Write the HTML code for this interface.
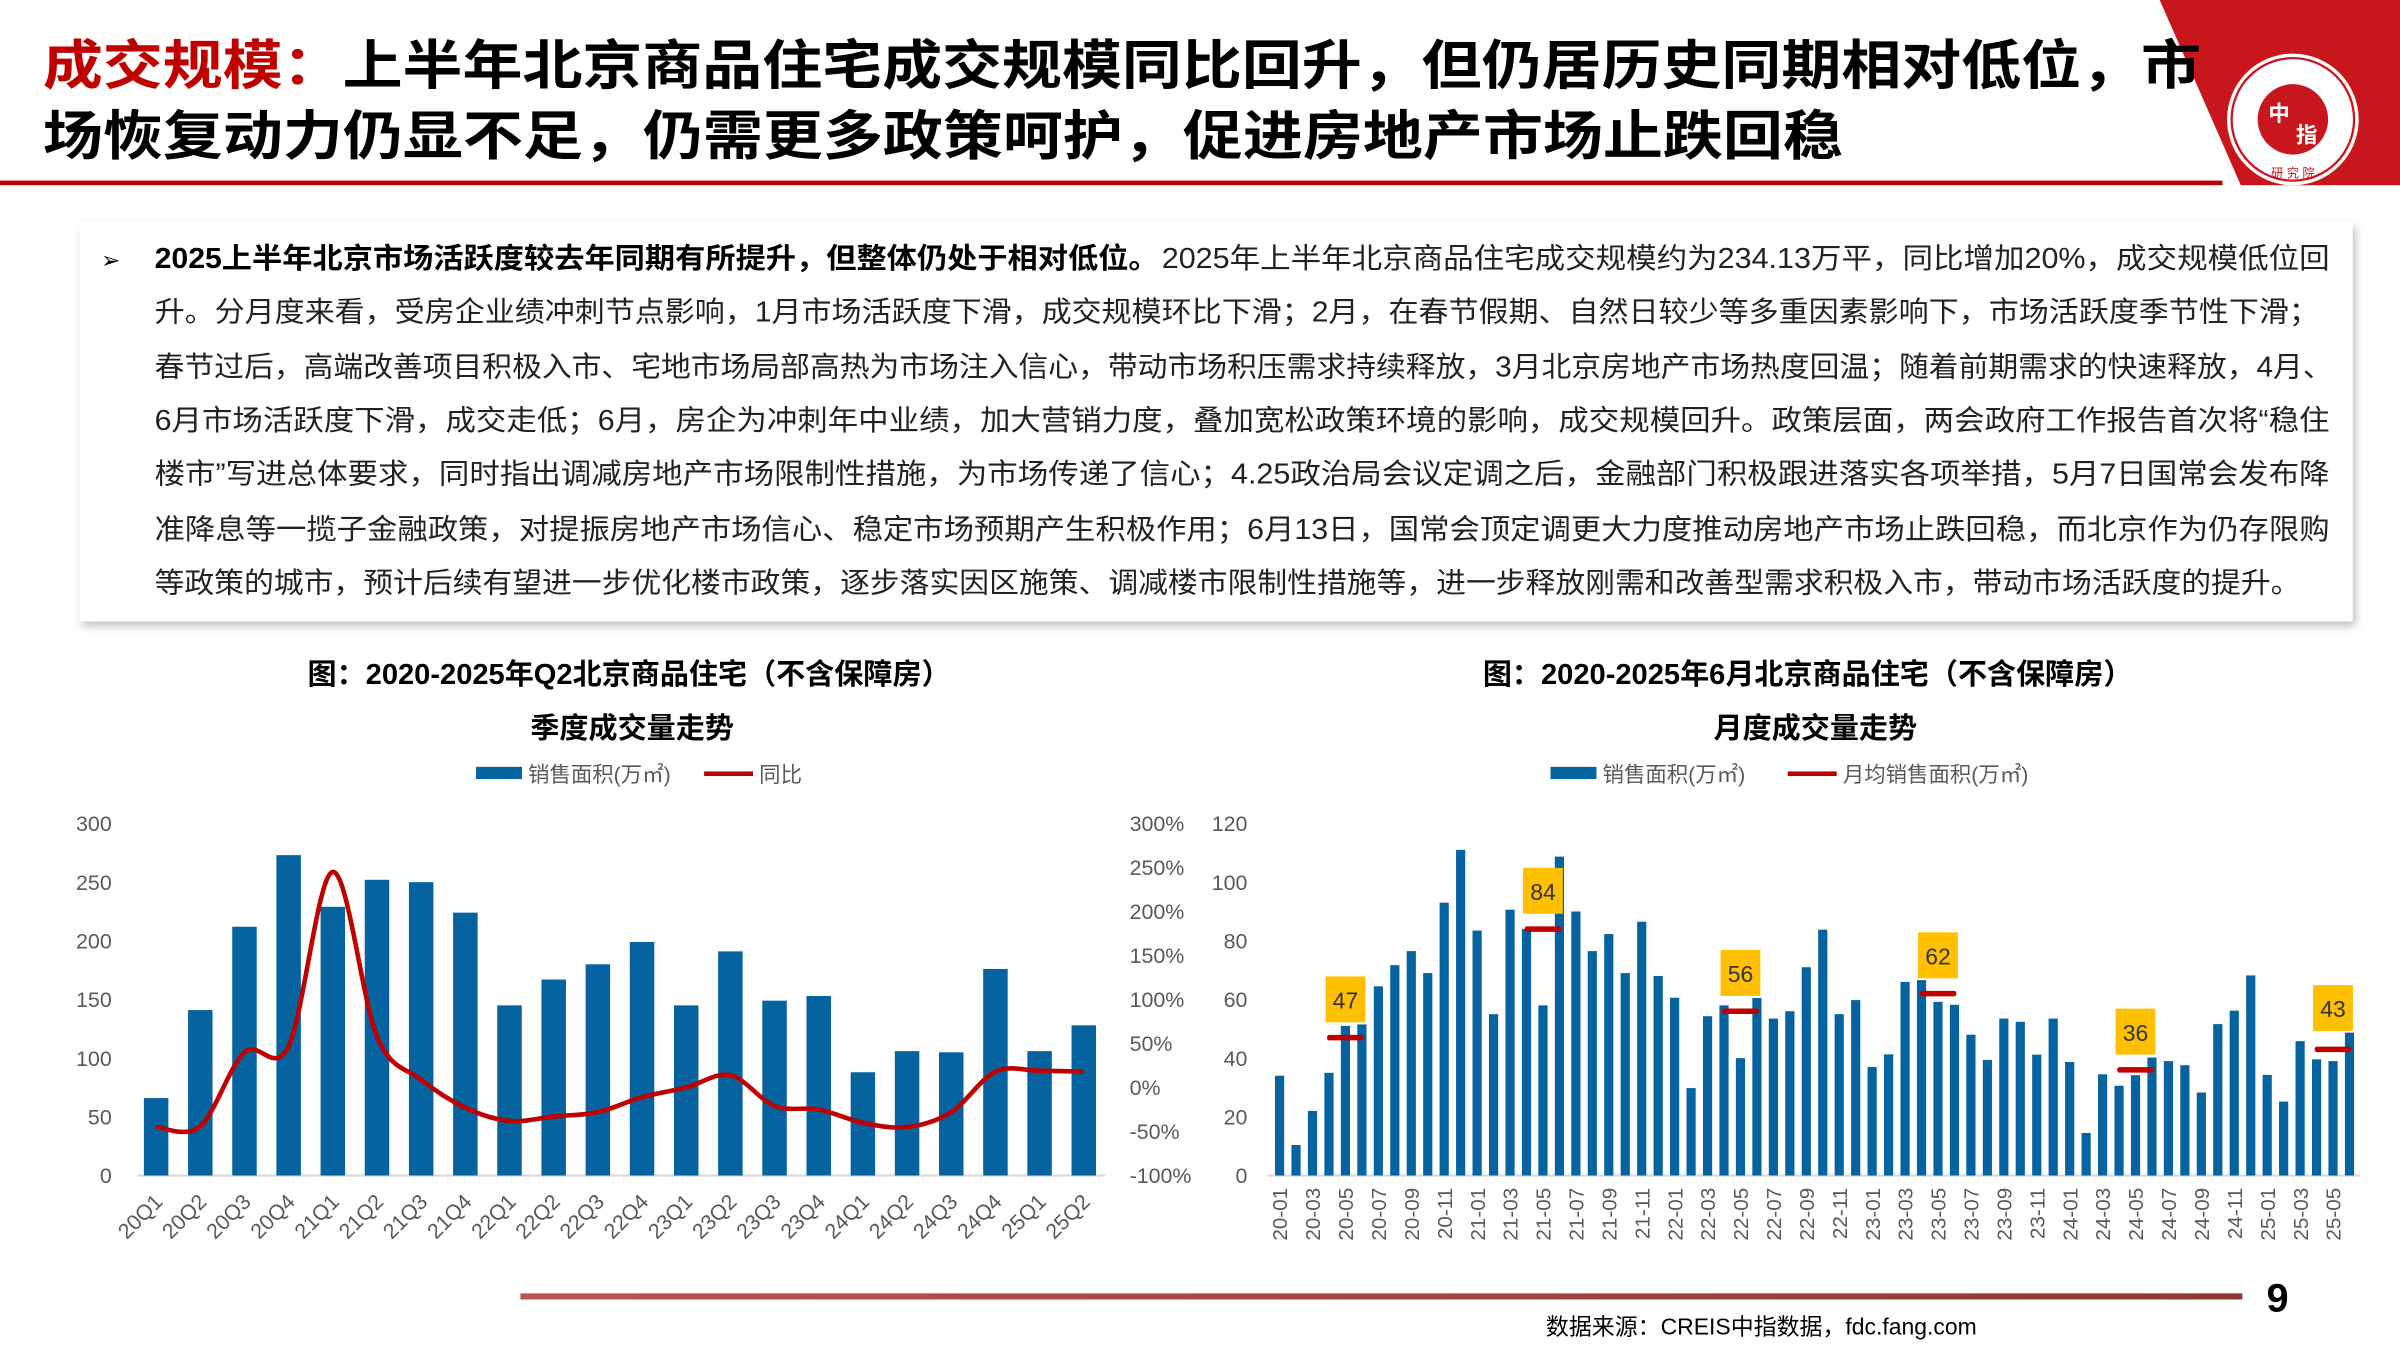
<!DOCTYPE html>
<html><head><meta charset="utf-8">
<style>
html,body{margin:0;padding:0;background:#fff;}
svg{display:block;}
text{font-family:"Liberation Sans","Noto Sans CJK SC",sans-serif;}
</style></head>
<body>
<svg id="s" width="2400" height="1350" viewBox="0 0 1568 882" xmlns="http://www.w3.org/2000/svg">
<defs>
<filter id="sh" x="-5%" y="-10%" width="110%" height="130%"><feDropShadow dx="2" dy="3" stdDeviation="3" flood-color="#000" flood-opacity="0.25"/></filter>
<linearGradient id="bl" x1="0" x2="1"><stop offset="0" stop-color="#C0504D"/><stop offset="1" stop-color="#8B3A2A"/></linearGradient>
</defs>
<rect width="1568" height="882" fill="#fff"/>
<!-- logo -->
<polygon points="1411,0 1568,0 1568,121 1464,121" fill="#C8161D"/>
<circle cx="1498" cy="78" r="43" fill="#fff"/>
<circle cx="1498" cy="78" r="40" fill="none" stroke="#C8161D" stroke-width="1.5"/>
<circle cx="1498" cy="78" r="23" fill="#C8161D"/>
<text x="1489" y="79" font-size="14" fill="#fff" text-anchor="middle" font-weight="bold">中</text>
<text x="1507" y="93" font-size="14" fill="#fff" text-anchor="middle" font-weight="bold">指</text>
<text x="1498" y="116" font-size="8" fill="#C8161D" text-anchor="middle">研 究 院</text>
<!-- header -->
<text x="28" y="55" font-size="35" font-weight="bold" textLength="1410" lengthAdjust="spacingAndGlyphs"><tspan fill="#C00000">成交规模：</tspan><tspan fill="#000">上半年北京商品住宅成交规模同比回升，但仍居历史同期相对低位，市</tspan></text>
<text x="28" y="101" font-size="35" font-weight="bold" fill="#000" textLength="1176" lengthAdjust="spacingAndGlyphs">场恢复动力仍显不足，仍需更多政策呵护，促进房地产市场止跌回稳</text>
<rect x="0" y="118" width="1452" height="3" fill="#C00000"/>
<!-- text box -->
<rect x="52" y="145" width="1485" height="261" fill="#fff" filter="url(#sh)"/>
<text x="66" y="175" font-size="15" fill="#000">➢</text>
<g font-size="18.5" fill="#222">
<text x="101" y="175" font-weight="bold" fill="#000" textLength="656" lengthAdjust="spacingAndGlyphs">2025上半年北京市场活跃度较去年同期有所提升，但整体仍处于相对低位。</text>
<text x="759" y="175" textLength="763" lengthAdjust="spacingAndGlyphs">2025年上半年北京商品住宅成交规模约为234.13万平，同比增加20%，成交规模低位回</text>
<text x="101" y="210" textLength="1414" lengthAdjust="spacingAndGlyphs">升。分月度来看，受房企业绩冲刺节点影响，1月市场活跃度下滑，成交规模环比下滑；2月，在春节假期、自然日较少等多重因素影响下，市场活跃度季节性下滑；</text>
<text x="101" y="246" textLength="1423" lengthAdjust="spacingAndGlyphs">春节过后，高端改善项目积极入市、宅地市场局部高热为市场注入信心，带动市场积压需求持续释放，3月北京房地产市场热度回温；随着前期需求的快速释放，4月、</text>
<text x="101" y="281" textLength="1421" lengthAdjust="spacingAndGlyphs">6月市场活跃度下滑，成交走低；6月，房企为冲刺年中业绩，加大营销力度，叠加宽松政策环境的影响，成交规模回升。政策层面，两会政府工作报告首次将“稳住</text>
<text x="101" y="316" textLength="1421" lengthAdjust="spacingAndGlyphs">楼市”写进总体要求，同时指出调减房地产市场限制性措施，为市场传递了信心；4.25政治局会议定调之后，金融部门积极跟进落实各项举措，5月7日国常会发布降</text>
<text x="101" y="352" textLength="1421" lengthAdjust="spacingAndGlyphs">准降息等一揽子金融政策，对提振房地产市场信心、稳定市场预期产生积极作用；6月13日，国常会顶定调更大力度推动房地产市场止跌回稳，而北京作为仍存限购</text>
<text x="101" y="387" textLength="1402" lengthAdjust="spacingAndGlyphs">等政策的城市，预计后续有望进一步优化楼市政策，逐步落实因区施策、调减楼市限制性措施等，进一步释放刚需和改善型需求积极入市，带动市场活跃度的提升。</text>
</g>
<!-- chart titles -->
<g font-size="19" font-weight="bold" fill="#000" text-anchor="middle">
<text x="411" y="447">图：2020-2025年Q2北京商品住宅（不含保障房）</text>
<text x="413" y="482">季度成交量走势</text>
<text x="1181" y="447">图：2020-2025年6月北京商品住宅（不含保障房）</text>
<text x="1186" y="482">月度成交量走势</text>
</g>
<g font-size="14" fill="#595959">
<rect x="311" y="501" width="30" height="8" fill="#0563A0"/>
<text x="345" y="511">销售面积(万㎡)</text>
<rect x="460" y="504" width="32" height="3" fill="#C00000"/>
<text x="496" y="511">同比</text>
<rect x="1013" y="501" width="30" height="8" fill="#0563A0"/>
<text x="1047" y="511">销售面积(万㎡)</text>
<rect x="1168" y="504" width="32" height="3" fill="#C00000"/>
<text x="1204" y="511">月均销售面积(万㎡)</text>
</g>
<g id="c1"></g>
<g id="c2"></g>
<!-- footer -->
<rect x="340" y="845" width="1125" height="4" fill="url(#bl)"/>
<text x="1488" y="857" font-size="26" font-weight="bold" fill="#000" text-anchor="middle">9</text>
<text x="1010" y="872" font-size="15" fill="#000">数据来源：CREIS中指数据，fdc.fang.com</text>
</svg>
<script>
var NS="http://www.w3.org/2000/svg";
function el(p,t,a,txt){var e=document.createElementNS(NS,t);for(var k in a)e.setAttribute(k,a[k]);if(txt!=null)e.textContent=txt;p.appendChild(e);return e;}
// chart 1
var c1=document.getElementById('c1');
var q=['20Q1','20Q2','20Q3','20Q4','21Q1','21Q2','21Q3','21Q4','22Q1','22Q2','22Q3','22Q4','23Q1','23Q2','23Q3','23Q4','24Q1','24Q2','24Q3','24Q4','25Q1','25Q2'];
var v=[66,141,212,273,229,252,250,224,145,167,180,199,145,191,149,153,88,106,105,176,106,128];
var y=[-45,-44,40,47,245,58,9,-23,-38,-33,-28,-11,0,14,-21,-25,-40,-45,-28,18,19,18];
var y0=768,k=230/300;
for(var i=0;i<=6;i++){var yy=y0-i*50*k;
 el(c1,'text',{x:73,y:yy+5,'font-size':14,fill:'#595959','text-anchor':'end'},String(i*50));}
for(var i=0;i<=8;i++){var yy=y0-i*28.75;
 el(c1,'text',{x:738,y:yy+5,'font-size':14,fill:'#595959'},((i-2)*50)+'%');}
el(c1,'line',{x1:90,x2:722,y1:y0,y2:y0,stroke:'#D9D9D9','stroke-width':1.5});
var pts=[];
for(var i=0;i<22;i++){var cx=102+i*28.86;
 el(c1,'rect',{x:cx-8,y:y0-v[i]*k,width:16,height:v[i]*k,fill:'#0563A0'});
 el(c1,'text',{x:0,y:0,'font-size':14,fill:'#595959','text-anchor':'end',transform:'translate('+(cx+5)+','+(y0+18)+') rotate(-45)'},q[i]);
 pts.push([cx,y0-(y[i]+100)*0.575]);}
function smooth(p){var d='M'+p[0][0]+','+p[0][1];for(var i=0;i<p.length-1;i++){var a=p[i-1]||p[i],b=p[i],c=p[i+1],e=p[i+2]||c;
 d+=' C'+(b[0]+(c[0]-a[0])/6)+','+(b[1]+(c[1]-a[1])/6)+' '+(c[0]-(e[0]-b[0])/6)+','+(c[1]-(e[1]-b[1])/6)+' '+c[0]+','+c[1];}return d;}
el(c1,'path',{d:smooth(pts),fill:'none',stroke:'#C00000','stroke-width':3,'stroke-linejoin':'round'});
// chart 2
var c2=document.getElementById('c2');
var m=[34,10.4,22,35,51,51.5,64.5,71.7,76.5,69,93,111,83.5,55,90.6,84,58,108.7,90,76.5,82.3,69,86.5,68,60.6,29.8,54.3,58,40,60.5,53.5,56,71,83.8,55,59.8,37,41.3,66,66.6,59.2,58.2,48,39.4,53.5,52.4,41.2,53.5,38.7,14.5,34.5,30.6,34.2,40.2,39,37.6,28.3,51.6,56.2,68.2,34.3,25.2,45.8,39.6,39,48.7];
var k2=230/120;
for(var i=0;i<=6;i++){var yy=y0-i*20*k2;el(c2,'text',{x:815,y:yy+5,'font-size':14,fill:'#595959','text-anchor':'end'},String(i*20));}
el(c2,'line',{x1:828,x2:1542,y1:y0,y2:y0,stroke:'#D9D9D9','stroke-width':1.5});
var st=836,dx=(1535-836)/65;
for(var i=0;i<66;i++){var cx=st+i*dx;
 el(c2,'rect',{x:cx-3,y:y0-m[i]*k2,width:6,height:m[i]*k2,fill:'#0563A0'});
 if(i%2==0){var yr=20+Math.floor(i/12),mo=(i%12)+1;
  el(c2,'text',{x:0,y:0,'font-size':13.5,fill:'#595959','text-anchor':'end',transform:'translate('+(cx+5)+','+(y0+8)+') rotate(-90)'},yr+'-'+(mo<10?'0':'')+mo);}}
var av=[[4,47],[16,84],[28,56],[40,62],[52,36],[64,43]];
av.forEach(function(a){var cx=st+a[0]*dx,yy=y0-a[1]*k2;
 el(c2,'rect',{x:cx-12,y:yy-1.8,width:24,height:3.6,rx:1.5,fill:'#C00000'});
 var by=yy-40;if(a[1]==43)by=yy-42;
 el(c2,'rect',{x:cx-13,y:by,width:26,height:30,fill:'#FFC000'});
 el(c2,'text',{x:cx,y:by+21,'font-size':15,fill:'#333','text-anchor':'middle'},String(a[1]));});
</script>
</body></html>
